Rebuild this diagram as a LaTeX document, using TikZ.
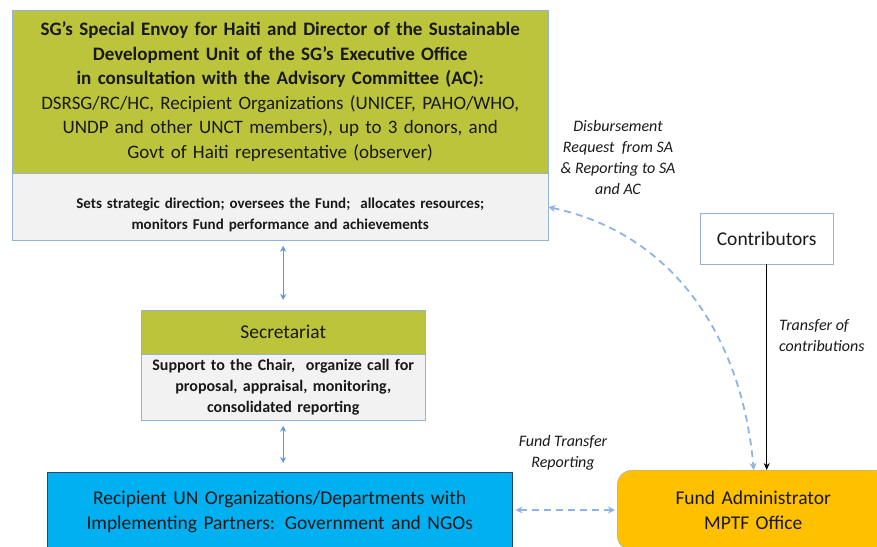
\documentclass[tikz,border=0pt]{standalone}
\usepackage{fontspec}
\setmainfont{Carlito}
\usepackage{tikz}
\usetikzlibrary{
  arrows.meta,
  positioning,
  calc
}
\definecolor{fundGreen}{RGB}{187,196,58}
\definecolor{fundGrey}{RGB}{242,242,242}
\definecolor{fundEdge}{RGB}{149,179,215}
\definecolor{fundCyan}{RGB}{0,176,240}
\definecolor{fundNavy}{RGB}{40,70,110}
\definecolor{fundGold}{RGB}{255,192,0}
\definecolor{fundLink}{RGB}{91,155,213}
\definecolor{fundDash}{RGB}{141,180,226}

\begin{document}
\begin{tikzpicture}[
  x=1pt, y=-1pt,
  text=black!90,
  head/.style={
    draw=fundEdge,
    fill=fundGreen,
    inner sep=0pt,
    align=center,
    font=\fontsize{19}{24.5}\selectfont
  },
  role/.style={
    draw=fundEdge,
    fill=fundGrey,
    inner sep=0pt,
    align=center,
    font=\bfseries\fontsize{15}{21}\selectfont
  },
  plain/.style={
    draw=fundEdge,
    fill=white,
    inner sep=0pt,
    align=center,
    font=\fontsize{19.5}{25}\selectfont
  },
  note/.style={
    align=center,
    inner sep=0pt,
    font=\itshape\fontsize{16}{21}\selectfont
  },
  link/.style={{Stealth[length=6pt,width=6pt]}-{Stealth[length=6pt,width=6pt]}, fundLink, line width=1pt},
  dashlink/.style={{Stealth[length=7pt,width=7pt]}-{Stealth[length=7pt,width=7pt]}, fundDash, line width=1.8pt, dash pattern=on 7pt off 5pt},
  flow/.style={-{Stealth[length=7pt,width=6pt]}, black, line width=1.1pt}
]
\useasboundingbox (0,0) rectangle (877,546);

% governance
\node[head, anchor=north west, minimum width=536pt, minimum height=163pt,
  text width=530pt] (envoy) at (12,10)
  {\textbf{SG’s Special Envoy for Haiti and Director of the Sustainable}\\
   \textbf{Development Unit of the SG’s Executive Office}\\
   \textbf{in consultation with the Advisory Committee (AC):}\\
   DSRSG/RC/HC, Recipient Organizations (UNICEF, PAHO/WHO,\\
   UNDP and other UNCT members), up to 3 donors, and\\
   Govt of Haiti representative (observer)};
\node[role, below=0pt of envoy, minimum width=536pt, minimum height=67pt] (envoyrole) {};
\node[role, draw=none, fill=none, text width=530pt] (envoytext)
  at ([yshift=-8pt]envoyrole.center)
  {Sets strategic direction; oversees the Fund;\ \ allocates resources;\\
   monitors Fund performance and achievements};

% secretariat
\node[head, anchor=north west, minimum width=284pt, minimum height=44pt,
  text width=280pt, font=\fontsize{19.5}{24}\selectfont] (secretariat) at (141,310) {Secretariat};
\node[role, below=0pt of secretariat, minimum width=284pt, minimum height=66pt,
  text width=280pt, font=\bfseries\fontsize{16}{21}\selectfont] (secrole)
  {Support to the Chair,\ \ organize call for\\
   proposal, appraisal, monitoring,\\
   consolidated reporting};

% recipients and fund
\node[plain, anchor=north west, fill=fundCyan, draw=fundNavy,
  minimum width=465pt, minimum height=80pt, text width=460pt] (recipient) at (47,472)
  {Recipient UN Organizations/Departments with\\
   Implementing Partners: Government and NGOs};
\node[plain, anchor=north west, fill=fundGold, draw=fundEdge!80!gray,
  rounded corners=15pt, minimum width=272pt, minimum height=80pt,
  text width=260pt] (fundadmin) at (617,470)
  {Fund Administrator\\MPTF Office};
\node[plain, anchor=north west, minimum width=133pt, minimum height=51pt,
  text width=128pt] (contributors) at (700,213) {Contributors};

% labels
\node[note] (disburse) at (618,157)
  {Disbursement\\Request\ \ from SA\\\& Reporting to SA\\and AC};
\node[note, anchor=west, align=left] (transfer) at (779,336)
  {Transfer of\\contributions};
\node[note] (fundtransfer) at (563,453) {Fund Transfer\\Reporting};

% connectors
\draw[link, shorten <=5pt, shorten >=10pt] (secretariat.north |- envoyrole.south) -- (secretariat.north);
\draw[link, shorten <=5pt, shorten >=9pt] (secrole.south) -- (secrole.south |- recipient.north);
\draw[dashlink] (envoyrole.east) to[out=-12, in=95] ([xshift=-13pt]contributors.south |- fundadmin.north);
\draw[flow] (contributors.south) -- (contributors.south |- fundadmin.north);
\draw[dashlink, shorten <=3pt, shorten >=2pt] (recipient.east |- 0,510) -- (fundadmin.west |- 0,510);

\end{tikzpicture}
\end{document}
